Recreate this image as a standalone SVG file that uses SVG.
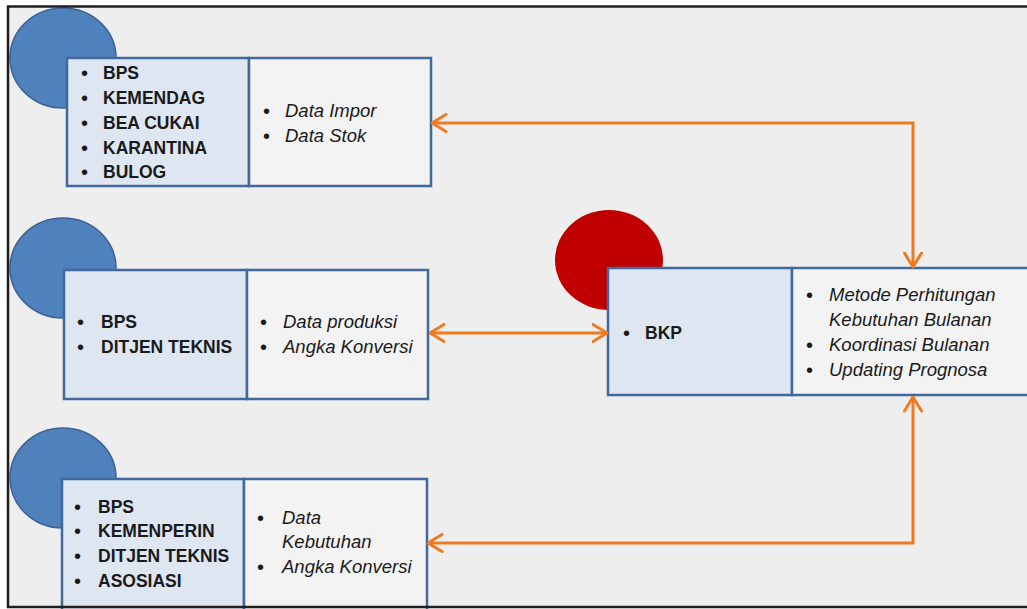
<svg xmlns="http://www.w3.org/2000/svg" width="1027" height="609" viewBox="0 0 1027 609">
<defs>
<style>
.bg{fill:#eeeeee}
.frame{fill:none;stroke:#1e1e1e;stroke-width:2.5}
.cb{fill:#4f81bd;stroke:#3b6292;stroke-width:1.5}
.cr{fill:#c00000}
.pl{fill:#dee6f2;stroke:#41699b;stroke-width:2.5}
.pr{fill:#f3f3f3;stroke:#41699b;stroke-width:2.5}
.b{font-family:"Liberation Sans",Arial,sans-serif;font-size:17.5px;font-weight:bold;fill:#1a1a1a}
.i{font-family:"Liberation Sans",Arial,sans-serif;font-size:18.5px;font-style:italic;fill:#1a1a1a}
.d{font-family:"Liberation Sans",Arial,sans-serif;font-size:20px;fill:#1a1a1a}
.con{fill:none;stroke:#ee7b22;stroke-width:3;marker-start:url(#ah);marker-end:url(#ah)}
</style>
<marker id="ah" viewBox="0 0 17 20" refX="15.5" refY="10" markerUnits="userSpaceOnUse" markerWidth="17" markerHeight="20" orient="auto-start-reverse">
<path d="M1.5,1.5 L15.5,10 L1.5,18.5" fill="none" stroke="#ee7b22" stroke-width="3" stroke-linecap="round" stroke-linejoin="round"/>
</marker>
</defs>
<rect x="0" y="0" width="1027" height="609" fill="#ffffff"/>
<rect class="bg" x="8" y="6.5" width="1030" height="600.5"/>

<g id="node-import">
<ellipse class="cb" cx="63" cy="58" rx="53" ry="50"/>
<rect class="pl" x="67" y="58" width="182" height="128"/>
<rect class="pr" x="249" y="58" width="182" height="128"/>
<text class="d" x="81" y="80">•</text><text class="b" x="103" y="79">BPS</text>
<text class="d" x="81" y="105">•</text><text class="b" x="103" y="104">KEMENDAG</text>
<text class="d" x="81" y="130">•</text><text class="b" x="103" y="129">BEA CUKAI</text>
<text class="d" x="81" y="155">•</text><text class="b" x="103" y="154">KARANTINA</text>
<text class="d" x="81" y="179">•</text><text class="b" x="103" y="178">BULOG</text>
<text class="d" x="263" y="118">•</text><text class="i" x="285" y="117">Data Impor</text>
<text class="d" x="263" y="143">•</text><text class="i" x="285" y="142">Data Stok</text>
</g>

<g id="node-produksi">
<ellipse class="cb" cx="63" cy="268" rx="53" ry="50"/>
<rect class="pl" x="64" y="270" width="183" height="129"/>
<rect class="pr" x="247" y="270" width="181" height="129"/>
<text class="d" x="77" y="329">•</text><text class="b" x="101" y="328">BPS</text>
<text class="d" x="77" y="354">•</text><text class="b" x="101" y="353">DITJEN TEKNIS</text>
<text class="d" x="260" y="329">•</text><text class="i" x="283" y="328">Data produksi</text>
<text class="d" x="260" y="354">•</text><text class="i" x="283" y="353">Angka Konversi</text>
</g>

<g id="node-kebutuhan">
<ellipse class="cb" cx="63" cy="478" rx="53" ry="50"/>
<rect class="pl" x="62" y="479" width="182" height="134"/>
<rect class="pr" x="244" y="479" width="183" height="134"/>
<text class="d" x="74" y="514">•</text><text class="b" x="98" y="513">BPS</text>
<text class="d" x="74" y="538">•</text><text class="b" x="98" y="537">KEMENPERIN</text>
<text class="d" x="74" y="563">•</text><text class="b" x="98" y="562">DITJEN TEKNIS</text>
<text class="d" x="74" y="588">•</text><text class="b" x="98" y="587">ASOSIASI</text>
<text class="d" x="257" y="525">•</text><text class="i" x="282" y="524">Data</text>
<text class="i" x="282" y="548">Kebutuhan</text>
<text class="d" x="257" y="574">•</text><text class="i" x="282" y="573">Angka Konversi</text>
</g>

<g id="node-bkp">
<ellipse class="cr" cx="609" cy="260" rx="54" ry="50"/>
<rect class="pl" x="608" y="268" width="184" height="127"/>
<rect class="pr" x="792" y="268" width="245" height="127"/>
<text class="d" x="623" y="340">•</text><text class="b" x="645" y="339">BKP</text>
<text class="d" x="806" y="302">•</text><text class="i" x="829" y="301">Metode Perhitungan</text>
<text class="i" x="829" y="326">Kebutuhan Bulanan</text>
<text class="d" x="806" y="352">•</text><text class="i" x="829" y="351">Koordinasi Bulanan</text>
<text class="d" x="806" y="377">•</text><text class="i" x="829" y="376">Updating Prognosa</text>
</g>

<g id="connectors">
<path class="con" d="M432,123 H913 V267"/>
<path class="con" d="M430,333 H607"/>
<path class="con" d="M428,543 H913 V397"/>
</g>

<rect class="frame" x="8" y="6.5" width="1030" height="600.5"/>
</svg>
